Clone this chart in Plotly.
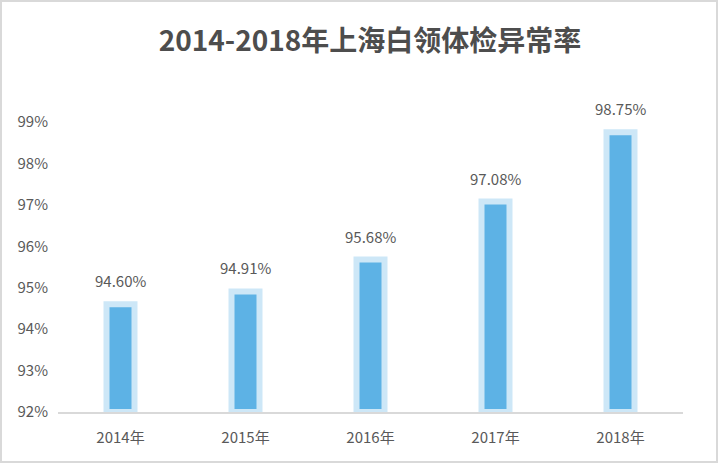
import plotly.graph_objects as go

categories = ["2014年", "2015年", "2016年", "2017年", "2018年"]
values = [94.60, 94.91, 95.68, 97.08, 98.75]
value_labels = ["94.60%", "94.91%", "95.68%", "97.08%", "98.75%"]
tick_vals = [92, 93, 94, 95, 96, 97, 98, 99]
tick_text = ["92%", "93%", "94%", "95%", "96%", "97%", "98%", "99%"]
BASE = 92

FONT = "Noto Sans CJK SC, Microsoft YaHei, sans-serif"
GRAY = "#595959"

fig = go.Figure()
fig.add_trace(go.Bar(
    x=categories,
    y=[v - BASE for v in values],
    base=BASE,
    width=0.224,
    marker=dict(color="#5DB2E5", line=dict(color="#CDE7F7", width=6)),
    hoverinfo="skip",
))

for c, v, t in zip(categories, values, value_labels):
    fig.add_annotation(x=c, y=v, text=t, showarrow=False, yanchor="bottom",
                       yshift=11, font=dict(family=FONT, size=15, color=GRAY))

fig.add_shape(type="rect", xref="paper", yref="paper",
              x0=(1 - 58) / 625, x1=(717 - 58) / 625,
              y0=(412 - 462) / 312, y1=(412 - 1) / 312,
              line=dict(color="#D9D9D9", width=2), layer="below")

fig.update_layout(
    width=720, height=476,
    margin=dict(l=58, r=37, t=100, b=64),
    paper_bgcolor="white", plot_bgcolor="white",
    showlegend=False,
    title=dict(text="<b>2014-2018年上海白领体检异常率</b>", x=370 / 720, xanchor="center",
               y=1 - 41 / 476, yanchor="middle",
               font=dict(family=FONT, size=28, color="#4D4D4D")),
    xaxis=dict(showgrid=False, showline=True, linecolor="#D9D9D9", linewidth=2,
               ticks="", ticklabelstandoff=11,
               tickfont=dict(family=FONT, size=15, color=GRAY)),
    yaxis=dict(range=[92, 99.53], tickvals=tick_vals, ticktext=tick_text,
               showgrid=False, zeroline=False, showline=False, ticks="",
               ticklabelstandoff=9,
               tickfont=dict(family=FONT, size=15, color=GRAY)),
)

fig.write_html("out.html", config={"displayModeBar": False},
               post_script="document.body.style.margin='0';")
